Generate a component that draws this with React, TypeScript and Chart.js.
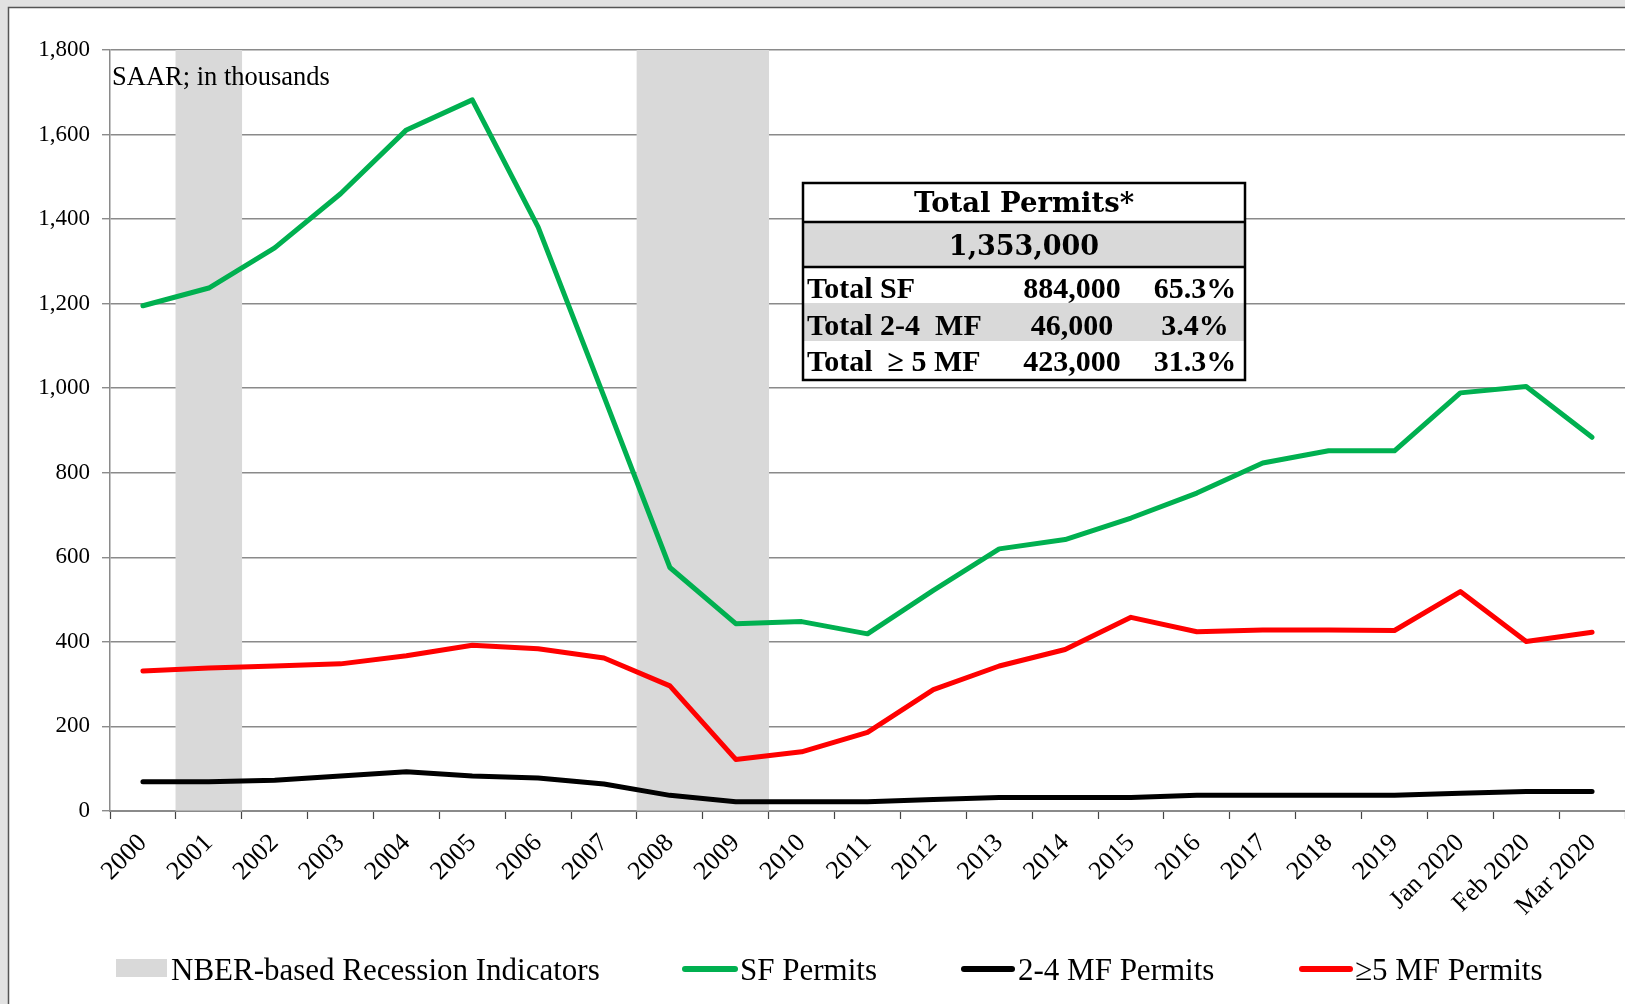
import React, { useEffect, useRef } from "react";
import { Chart, registerables } from "chart.js";

Chart.register(...registerables);

// ---------------- data ----------------
const categories = [
  "2000", "2001", "2002", "2003", "2004", "2005", "2006", "2007", "2008", "2009",
  "2010", "2011", "2012", "2013", "2014", "2015", "2016", "2017", "2018", "2019",
  "Jan 2020", "Feb 2020", "Mar 2020",
];

const sfPermits = [
  1195, 1237, 1332, 1460, 1611, 1682, 1381, 980, 576, 443,
  448, 419, 522, 620, 642, 693, 752, 823, 852, 852,
  989, 1004, 884,
];

const mf24Permits = [
  69, 69, 73, 83, 93, 83, 78, 64, 37, 22,
  22, 22, 27, 32, 32, 32, 37, 37, 37, 37,
  42, 46, 46,
];

const mf5Permits = [
  331, 338, 343, 348, 367, 392, 384, 362, 296, 122,
  140, 186, 287, 343, 382, 458, 424, 428, 428, 427,
  519, 401, 423,
];

// 1 = NBER recession year
const recessionFlags = [
  0, 1, 0, 0, 0, 0, 0, 0, 1, 1,
  0, 0, 0, 0, 0, 0, 0, 0, 0, 0,
  0, 0, 0,
];

const yMin = 0;
const yMax = 1800;
const yStep = 200;

const unitNote = "SAAR; in thousands";

const legendLabels = [
  "NBER-based Recession Indicators",
  "SF Permits",
  "2-4 MF Permits",
  "\u22655 MF Permits",
];

const tableTitle = "Total Permits*";
const tableTotal = "1,353,000";
const tableRowLabels = ["Total SF", "Total 2-4  MF", "Total  \u2265 5 MF"];
const tableRowCounts = ["884,000", "46,000", "423,000"];
const tableRowShares = ["65.3%", "3.4%", "31.3%"];

// ---------------- styles ----------------
const SERIF = "'Liberation Serif', 'Times New Roman', serif";
const WIDE_SERIF = "'DejaVu Serif', 'Liberation Serif', serif";
const GREEN = "#00b050";
const RED = "#ff0000";
const BLACK = "#000000";
const BAND = "#d9d9d9";
const GRID = "#8a8a8a";

const backgroundPlugin = {
  id: "pageBackground",
  beforeDraw(chart: any) {
    const { ctx, width, height } = chart;
    ctx.save();
    ctx.fillStyle = "#e2e2e2";
    ctx.fillRect(0, 0, width, height);
    ctx.fillStyle = "#ffffff";
    ctx.fillRect(8, 7, width - 8, height - 7);
    ctx.strokeStyle = "#555555";
    ctx.lineWidth = 1.5;
    ctx.beginPath();
    ctx.moveTo(8.5, height);
    ctx.lineTo(8.5, 7.5);
    ctx.lineTo(width, 7.5);
    ctx.stroke();
    ctx.restore();
  },
};

const annotationPlugin = {
  id: "annotations",
  afterDatasetsDraw(chart: any) {
    const { ctx, chartArea } = chart;
    ctx.save();
    // unit note
    ctx.fillStyle = "#000";
    ctx.font = `26.5px ${SERIF}`;
    ctx.textAlign = "left";
    ctx.textBaseline = "alphabetic";
    ctx.fillText(unitNote, chartArea.left + 2, chartArea.top + 35);

    // summary table
    const left = 803;
    const right = 1245;
    const rowsY = [183, 222, 267, 303, 341, 380];
    const w = right - left;
    ctx.fillStyle = "#ffffff";
    ctx.fillRect(left, rowsY[0], w, rowsY[5] - rowsY[0]);
    ctx.fillStyle = BAND;
    ctx.fillRect(left, rowsY[1], w, rowsY[2] - rowsY[1]);
    ctx.fillRect(left, rowsY[3], w, rowsY[4] - rowsY[3]);
    ctx.strokeStyle = "#000";
    ctx.lineWidth = 2.5;
    ctx.strokeRect(left, rowsY[0], w, rowsY[5] - rowsY[0]);
    ctx.beginPath();
    ctx.moveTo(left, rowsY[1]);
    ctx.lineTo(right, rowsY[1]);
    ctx.moveTo(left, rowsY[2]);
    ctx.lineTo(right, rowsY[2]);
    ctx.stroke();

    ctx.fillStyle = "#000";
    ctx.textAlign = "center";
    ctx.font = `bold 27.5px ${WIDE_SERIF}`;
    ctx.fillText(tableTitle, (left + right) / 2, 212);
    ctx.font = `bold 27px ${WIDE_SERIF}`;
    ctx.fillText(tableTotal, (left + right) / 2, 255);

    const baselines = [298, 335, 371];
    ctx.font = `bold 30px ${SERIF}`;
    tableRowLabels.forEach((label, i) => {
      ctx.textAlign = "left";
      ctx.fillText(label, left + 4, baselines[i]);
      ctx.textAlign = "center";
      ctx.fillText(tableRowCounts[i], 1072, baselines[i]);
      ctx.fillText(tableRowShares[i], 1195, baselines[i]);
    });
    ctx.restore();
  },
  afterDraw(chart: any) {
    const { ctx } = chart;
    ctx.save();
    ctx.font = `31px ${SERIF}`;
    ctx.fillStyle = "#000";
    ctx.textAlign = "left";
    ctx.textBaseline = "alphabetic";
    const baseline = 980;
    const lineY = 969;
    // recession box
    ctx.fillStyle = BAND;
    ctx.fillRect(116, 959, 51, 18);
    ctx.fillStyle = "#000";
    ctx.fillText(legendLabels[0], 171, baseline);
    const lineItems = [
      { x0: 685, x1: 735, color: GREEN, tx: 740, label: legendLabels[1] },
      { x0: 964, x1: 1012, color: BLACK, tx: 1018, label: legendLabels[2] },
      { x0: 1302, x1: 1350, color: RED, tx: 1355, label: legendLabels[3] },
    ];
    lineItems.forEach((it) => {
      ctx.strokeStyle = it.color;
      ctx.lineWidth = 6;
      ctx.lineCap = "round";
      ctx.beginPath();
      ctx.moveTo(it.x0, lineY);
      ctx.lineTo(it.x1, lineY);
      ctx.stroke();
      ctx.fillStyle = "#000";
      ctx.fillText(it.label, it.tx, baseline);
    });
    ctx.restore();
  },
};

export default function App() {
  const canvasRef = useRef<HTMLCanvasElement | null>(null);

  useEffect(() => {
    document.body.style.margin = "0";
    document.body.style.overflow = "hidden";
    const canvas = canvasRef.current;
    if (!canvas) return;

    const lineCommon = {
      type: "line" as const,
      borderWidth: 5,
      pointRadius: 0,
      pointHoverRadius: 0,
      tension: 0,
      fill: false,
      borderCapStyle: "round" as const,
      borderJoinStyle: "round" as const,
    };

    const chart = new Chart(canvas, {
      type: "line",
      data: {
        labels: categories,
        datasets: [
          {
            ...lineCommon,
            label: legendLabels[1],
            data: sfPermits,
            borderColor: GREEN,
            backgroundColor: GREEN,
            order: 1,
          },
          {
            ...lineCommon,
            label: legendLabels[3],
            data: mf5Permits,
            borderColor: RED,
            backgroundColor: RED,
            order: 2,
          },
          {
            ...lineCommon,
            label: legendLabels[2],
            data: mf24Permits,
            borderColor: BLACK,
            backgroundColor: BLACK,
            order: 3,
          },
          {
            type: "bar" as const,
            label: legendLabels[0],
            data: recessionFlags.map((f) => (f ? yMax : null)),
            backgroundColor: BAND,
            borderWidth: 0,
            barPercentage: 1,
            categoryPercentage: 1,
            order: 10,
          } as any,
        ],
      },
      options: {
        responsive: false,
        animation: false,
        devicePixelRatio: 1,
        layout: { padding: { left: 0, right: 0, top: 50, bottom: 0 } },
        plugins: {
          legend: { display: false },
          tooltip: { enabled: false },
          title: { display: false },
        },
        scales: {
          x: {
            type: "category",
            offset: true,
            z: 1,
            grid: {
              offset: true,
              drawOnChartArea: false,
              drawTicks: true,
              tickLength: 8,
              tickColor: "#444",
              tickWidth: 1.2,
            },
            border: { display: true, color: GRID, width: 2 },
            ticks: {
              autoSkip: false,
              minRotation: 45,
              maxRotation: 45,
              padding: 9,
              color: "#000",
              font: { family: SERIF, size: 26 },
            },
            afterFit: (scale: any) => {
              scale.height = 193;
            },
          },
          y: {
            min: yMin,
            max: yMax,
            grid: {
              color: GRID,
              lineWidth: 1.5,
              tickLength: 8,
              tickColor: "#777",
              tickWidth: 1.2,
            },
            border: { display: true, color: GRID, width: 1.5 },
            ticks: {
              stepSize: yStep,
              padding: 12,
              color: "#000",
              font: { family: SERIF, size: 23 },
              callback: (v: any) => Number(v).toLocaleString("en-US"),
            },
            afterFit: (scale: any) => {
              scale.width = 110;
            },
          },
        },
      },
      plugins: [backgroundPlugin, annotationPlugin],
    });

    return () => chart.destroy();
  }, []);

  return (
    <canvas
      ref={canvasRef}
      width={1625}
      height={1004}
      style={{ display: "block", width: 1625, height: 1004 }}
    />
  );
}
